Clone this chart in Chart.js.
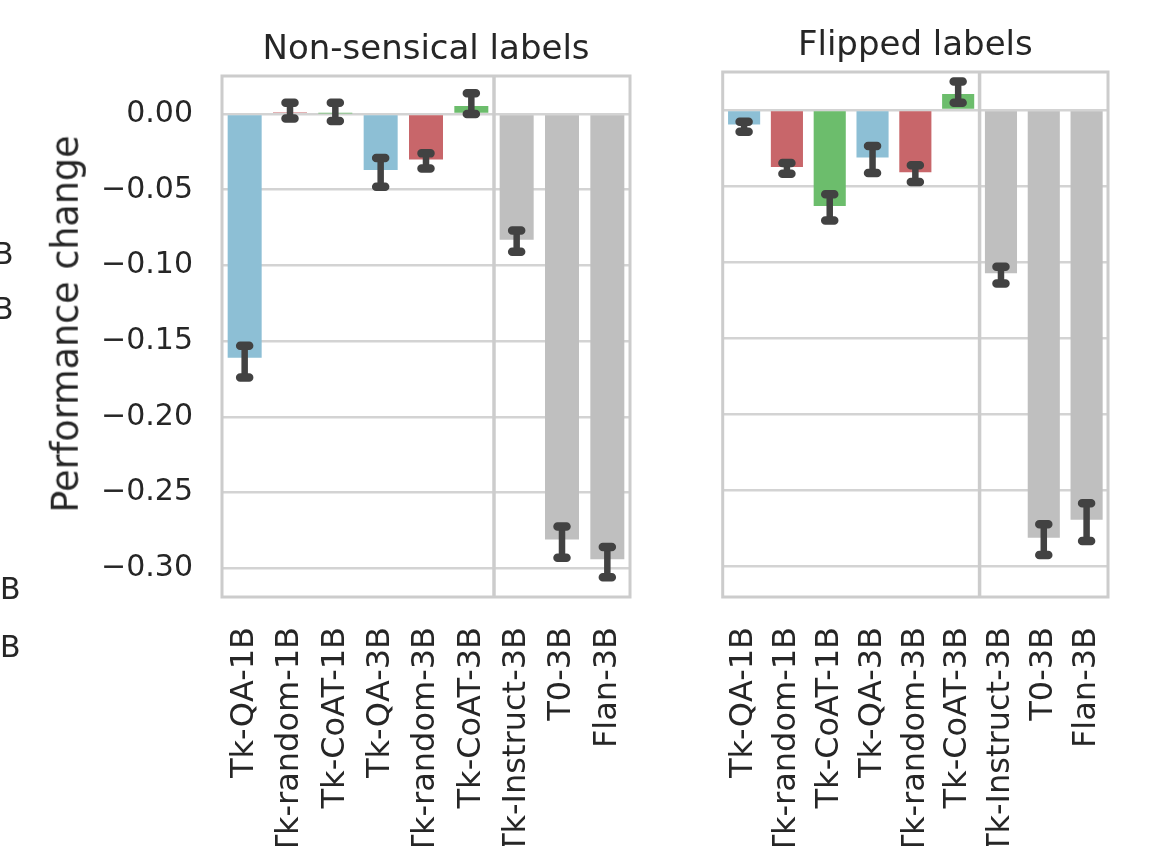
<!DOCTYPE html>
<html><head><meta charset="utf-8">
<script src="https://cdn.jsdelivr.net/npm/chart.js@4.4.1/dist/chart.umd.min.js"></script>
<style>
body{margin:0;width:1155px;height:846px;overflow:hidden;background:#fff;position:relative;font-family:"DejaVu Sans";}
.wrap{position:absolute;top:0;height:846px;}
.stray{position:absolute;font:30px "DejaVu Sans";line-height:30px;color:#262626;}
#ylab{position:absolute;left:66px;top:324px;font:36.5px "DejaVu Sans";color:#262626;white-space:nowrap;line-height:1;
      transform:translate(-50%,-50%) rotate(-90deg);}
</style></head>
<body>
<div class="wrap" style="left:0;width:650px"><canvas id="c1"></canvas></div>
<div class="wrap" style="left:650px;width:505px"><canvas id="c2"></canvas></div>
<div id="ylab">Performance change</div>
<div class="stray" style="left:-7px;top:239px">B</div>
<div class="stray" style="left:-7px;top:294px">B</div>
<div class="stray" style="left:0px;top:574px">B</div>
<div class="stray" style="left:0px;top:632px">B</div>
<script>
const categories = ['Tk-QA-1B','Tk-random-1B','Tk-CoAT-1B','Tk-QA-3B','Tk-random-3B','Tk-CoAT-3B','Tk-Instruct-3B','T0-3B','Flan-3B'];
const yTicks = [0.00,-0.05,-0.10,-0.15,-0.20,-0.25,-0.30];

const nonsensicalMean = [-0.161, 0.0012, 0.0003, -0.037, -0.030, 0.0053, -0.083, -0.281, -0.294];
const nonsensicalLow  = [-0.174, -0.003, -0.0046, -0.048, -0.036, 0.0000, -0.091, -0.293, -0.306];
const nonsensicalHigh = [-0.153, 0.0074, 0.0075, -0.029, -0.026, 0.0137, -0.077, -0.2725, -0.286];

const flippedMean = [-0.0095, -0.0374, -0.0631, -0.0312, -0.0409, 0.0106, -0.1073, -0.281, -0.2693];
const flippedLow  = [-0.0143, -0.0418, -0.0726, -0.0413, -0.0473, 0.0048, -0.114, -0.2924, -0.2832];
const flippedHigh = [-0.0077, -0.0348, -0.0554, -0.0237, -0.0363, 0.0187, -0.103, -0.2722, -0.2584];

const BLUE='#8dbfd5', RED='#c8666a', GREEN='#6cbd6c', GREY='#bfbfbf';
const barColors = [BLUE, RED, GREEN, BLUE, RED, GREEN, GREY, GREY, GREY];
const TXT='#262626';

const fmt = v => { const r = Math.round(v*100)/100; return (r < 0 ? '\u2212' : '') + Math.abs(r).toFixed(2); };

const decor = {
  id: 'decor',
  afterDatasetsDraw(chart, args, opts) {
    const {ctx, chartArea: a, scales: {x, y}} = chart;
    ctx.save();
    ctx.strokeStyle = '#424242';
    ctx.lineCap = 'round';
    opts.low.forEach((l, i) => {
      const px = x.getPixelForValue(i);
      const y1 = y.getPixelForValue(opts.high[i]);
      const y2 = y.getPixelForValue(l);
      ctx.lineWidth = 6.5;
      ctx.beginPath(); ctx.moveTo(px, y1); ctx.lineTo(px, y2); ctx.stroke();
      ctx.lineWidth = 8.5;
      ctx.beginPath();
      ctx.moveTo(px - 4.5, y1); ctx.lineTo(px + 4.5, y1);
      ctx.moveTo(px - 4.5, y2); ctx.lineTo(px + 4.5, y2);
      ctx.stroke();
    });
    ctx.lineCap = 'butt';
    ctx.strokeStyle = '#cccccc';
    ctx.lineWidth = 3.5;
    const sx = (x.getPixelForValue(5) + x.getPixelForValue(6)) / 2;
    ctx.beginPath(); ctx.moveTo(sx, a.top); ctx.lineTo(sx, a.bottom); ctx.stroke();
    ctx.lineWidth = 3;
    ctx.strokeRect(a.left, a.top, a.right - a.left, a.bottom - a.top);
    ctx.restore();
  }
};

function makeChart(id, cfg) {
  return new Chart(document.getElementById(id), {
    type: 'bar',
    data: {
      labels: categories,
      datasets: [{ data: cfg.mean, backgroundColor: barColors, borderWidth: 0,
                   barPercentage: 0.75, categoryPercentage: 1.0 }]
    },
    options: {
      responsive: true, maintainAspectRatio: false, animation: false,
      layout: { padding: { left: 0, right: cfg.padRight, top: 0, bottom: 0 } },
      plugins: {
        legend: { display: false }, tooltip: { enabled: false },
        title: { display: true, text: cfg.title, fullSize: false, color: TXT,
                 font: { family: 'DejaVu Sans', size: 34, weight: 'normal', lineHeight: 1.2 },
                 padding: { top: cfg.titleTop, bottom: cfg.titleBottom } },
        decor: { low: cfg.low, high: cfg.high }
      },
      scales: {
        x: {
          afterFit: s => { s.height = 846 - 597; s.paddingLeft = 0; s.paddingRight = 0; },
          grid: { display: false, drawTicks: false },
          border: { display: false },
          ticks: { autoSkip: false, minRotation: 90, maxRotation: 90, padding: 30, color: TXT,
                   font: { family: 'DejaVu Sans', size: 32 } }
        },
        y: {
          min: cfg.min, max: cfg.max,
          afterBuildTicks: s => { s.ticks = yTicks.map(v => ({ value: v })); },
          afterFit: s => { s.width = cfg.yWidth; s.paddingTop = 0; s.paddingBottom = 0; },
          grid: { color: '#d3d3d3', lineWidth: 2.5, drawTicks: false },
          border: { display: false },
          ticks: { display: cfg.showY, padding: 29, color: TXT, callback: v => fmt(v),
                   font: { family: 'DejaVu Sans', size: 30 } },
          title: { display: false }
        }
      }
    },
    plugins: [decor]
  });
}

makeChart('c1', { title: 'Non-sensical labels', mean: nonsensicalMean, low: nonsensicalLow, high: nonsensicalHigh,
  min: -0.319, max: 0.0251, yWidth: 222, padRight: 20, showY: true, titleTop: 29.5, titleBottom: 5.7 });
makeChart('c2', { title: 'Flipped labels', mean: flippedMean, low: flippedLow, high: flippedHigh,
  min: -0.320, max: 0.025, yWidth: 72.7, padRight: 47, showY: false, titleTop: 25.5, titleBottom: 5.7 });
</script>
</body></html>
